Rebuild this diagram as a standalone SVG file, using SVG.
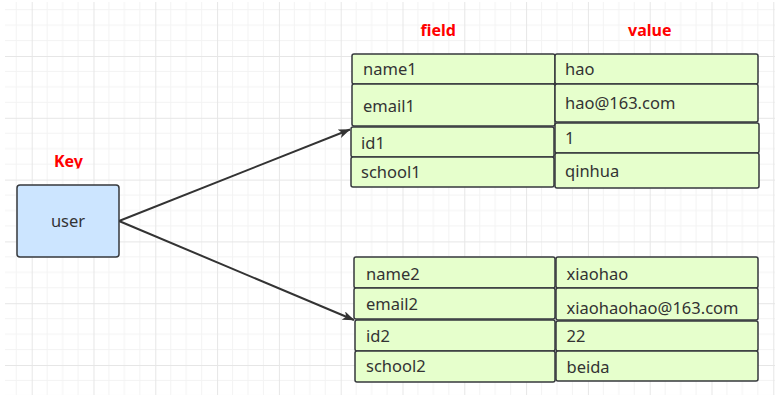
<svg xmlns="http://www.w3.org/2000/svg" width="779" height="402" viewBox="0 0 779 402">
<defs>
<pattern id="grid" patternUnits="userSpaceOnUse" x="31.7" y="56" width="61.8" height="61.8">
<path d="M15.45 0V61.8M30.9 0V61.8M46.35 0V61.8M0 15.45H61.8M0 30.9H61.8M0 46.35H61.8" stroke="#f3f3f3" stroke-width="1" fill="none"/>
<path d="M0.5 0V61.8M0 0.5H61.8" stroke="#e6e6e6" stroke-width="1" fill="none"/>
</pattern>
<marker id="arrow" viewBox="0 0 12 9" refX="11.5" refY="4.5" markerWidth="12" markerHeight="9" markerUnits="userSpaceOnUse" orient="auto">
<path d="M0 0L12 4.5L0 9L3 4.5Z" fill="#333333"/>
</marker>
<clipPath id="keyclip"><rect x="40" y="140" width="60" height="28.6"/></clipPath>
</defs>
<style>
.cell{fill:#e6ffcc;stroke:#36393d;stroke-width:1.5}
.key{fill:#cce5ff;stroke:#36393d;stroke-width:1.5}
.t{font-family:"Noto Sans","Liberation Sans",sans-serif;font-size:16.5px;fill:#333333}
.lbl{font-family:"Noto Sans","Liberation Sans",sans-serif;font-size:16px;font-weight:bold;fill:#ff0000}
.edge{stroke:#333333;stroke-width:2;fill:none}
</style>
<rect x="0" y="0" width="779" height="402" fill="#ffffff"/>
<rect x="5" y="2" width="770" height="393" fill="url(#grid)"/>

<g id="labels">
<text class="lbl" x="54" y="166.7" clip-path="url(#keyclip)">Key</text>
<text class="lbl" x="420.5" y="36">field</text>
<text class="lbl" x="628" y="36">value</text>
</g>

<g id="connectors">
<path class="edge" d="M119 221L350 129.5" marker-end="url(#arrow)"/>
<path class="edge" d="M119 221L354 320" marker-end="url(#arrow)"/>
</g>

<g id="user">
<rect class="key" x="17" y="185" width="102" height="72" rx="3"/>
<text class="t" x="68" y="227" text-anchor="middle">user</text>
</g>

<g id="hash1">
<g id="name1"><rect class="cell" x="352" y="54" width="203" height="30" rx="2"/><text class="t" x="363" y="75">name1</text></g>
<g id="email1"><rect class="cell" x="352" y="84" width="203" height="42" rx="2"/><text class="t" x="363" y="111.5">email1</text></g>
<g id="id1"><rect class="cell" x="351" y="127" width="203" height="30" rx="2"/><text class="t" x="361" y="149">id1</text></g>
<g id="school1"><rect class="cell" x="351" y="157" width="203" height="30" rx="2"/><text class="t" x="361" y="178">school1</text></g>
<g id="hao"><rect class="cell" x="555" y="54" width="203" height="30" rx="2"/><text class="t" x="565" y="75">hao</text></g>
<g id="hao163"><rect class="cell" x="555" y="84" width="203" height="38" rx="2"/><text class="t" x="565" y="108.5">hao@163.com</text></g>
<g id="v1"><rect class="cell" x="555" y="123" width="204" height="30" rx="2"/><text class="t" x="565" y="144">1</text></g>
<g id="qinhua"><rect class="cell" x="555" y="153" width="204" height="35" rx="2"/><text class="t" x="565" y="176.5">qinhua</text></g>
</g>

<g id="hash2">
<g id="name2"><rect class="cell" x="354" y="257" width="201" height="31" rx="2"/><text class="t" x="366" y="280">name2</text></g>
<g id="email2"><rect class="cell" x="354" y="288" width="201" height="31" rx="2"/><text class="t" x="366" y="309.5">email2</text></g>
<g id="id2"><rect class="cell" x="355" y="320" width="200" height="31" rx="2"/><text class="t" x="366" y="341.7">id2</text></g>
<g id="school2"><rect class="cell" x="355" y="351" width="200" height="31" rx="2"/><text class="t" x="366" y="371.7">school2</text></g>
<g id="xiaohao"><rect class="cell" x="556" y="257" width="202" height="31" rx="2"/><text class="t" x="566.5" y="280">xiaohao</text></g>
<g id="xiaohao163"><rect class="cell" x="556" y="288" width="202" height="32" rx="2"/><text class="t" x="566.5" y="314">xiaohaohao@163.com</text></g>
<g id="v22"><rect class="cell" x="556" y="321" width="202" height="30" rx="2"/><text class="t" x="566.5" y="341.7">22</text></g>
<g id="beida"><rect class="cell" x="556" y="351" width="202" height="30" rx="2"/><text class="t" x="566.5" y="372.7">beida</text></g>
</g>
</svg>
